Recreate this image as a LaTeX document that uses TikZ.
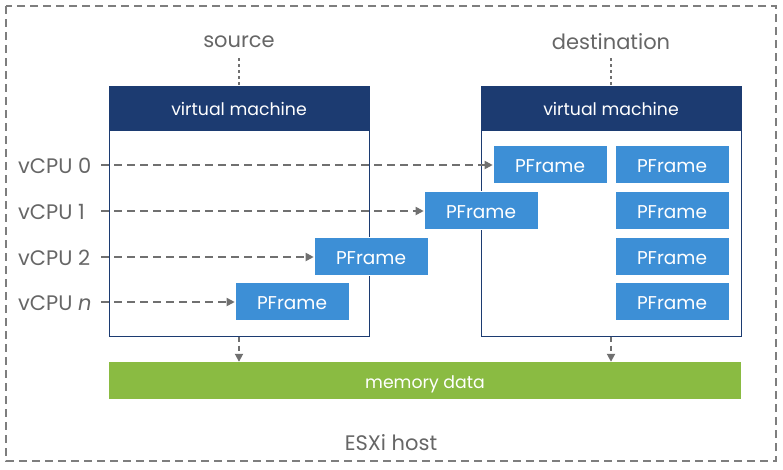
\documentclass[tikz,border=0pt]{standalone}
\usepackage{fontspec}
\setmainfont{Poppins}
\usetikzlibrary{arrows.meta}
\definecolor{navy}{HTML}{1C3B71}
\definecolor{pblue}{HTML}{3D8FD6}
\definecolor{mgreen}{HTML}{8ABB42}
\definecolor{tgray}{HTML}{666666}
\definecolor{lgray}{HTML}{707070}
\tikzset{
  pframe/.style={fill=pblue, draw=white, line width=0.6pt, minimum width=114pt, minimum height=38pt, inner sep=0pt, text=white, text height=16.6pt, text depth=0pt, font=\fontsize{18.5}{18.5}\selectfont},
  vmhead/.style={fill=navy, draw=navy, minimum width=260pt, minimum height=44pt, inner sep=0pt, text=white, text height=15.4pt, text depth=0pt, font=\fontsize{17.3}{17.3}\selectfont},
  vmbody/.style={draw=navy, line width=1pt, minimum width=260pt, minimum height=250pt, inner sep=0pt},
  lbl/.style={text=tgray, inner sep=0pt, font=\fontsize{21}{21}\selectfont},
  flow/.style={draw=lgray, line width=1.8pt, dash pattern=on 8pt off 5pt, -{Triangle[length=8pt,width=8pt]}},
  dotl/.style={draw=lgray, line width=2pt, dash pattern=on 3pt off 3pt},
}
\begin{document}
\begin{tikzpicture}[x=1pt,y=-1pt]
\useasboundingbox (0,0) rectangle (783,469);
% outer host
\draw[lgray!90, line width=1.5pt, dash pattern=on 8pt off 5pt] (6,6) rectangle (776,461);
\node[lbl] (host) at (391,443) {ESXi host};
% VMs
\node[vmbody] (svm) at (239,211) {};
\node[vmhead] (shead) at (239,108) {virtual machine};
\node[vmbody] (dvm) at (611,211) {};
\node[vmhead] (dhead) at (611,108) {virtual machine};
\node[lbl] (src) at (239,42) {source};
\node[lbl] (dst) at (611,42) {destination};
\draw[dotl] (239,58) -- (shead.north);
\draw[dotl] (611,58) -- (dhead.north);
% PFrames destination
\node[pframe] (d1) at (550,164) {PFrame};
\node[pframe] (e1) at (672,164) {PFrame};
\node[pframe] (e2) at (672,210) {PFrame};
\node[pframe] (e3) at (672,256) {PFrame};
\node[pframe] (e4) at (672,301) {PFrame};
\node[pframe] (p1) at (481,210) {PFrame};
\node[pframe] (p2) at (371,256) {PFrame};
\node[pframe] (p3) at (292,301) {PFrame};
% vCPU labels
\node[lbl, anchor=west] (c0) at (18,166) {vCPU 0};
\node[lbl, anchor=west] (c1) at (18,212) {vCPU 1};
\node[lbl, anchor=west] (c2) at (18,258) {vCPU 2};
\node[lbl, anchor=west] (cn) at (18,303) {vCPU \textit{n}};
\coordinate (s0) at (101,165);
\coordinate (s1) at (101,211);
\coordinate (s2) at (101,257);
\coordinate (sn) at (101,302);
\draw[flow] (s0) -- (d1.west|-s0);
\draw[flow] (s1) -- (p1.west|-s1);
\draw[flow] (s2) -- (p2.west|-s2);
\draw[flow] (sn) -- (p3.west|-sn);
% memory
\node[fill=mgreen, minimum width=632pt, minimum height=37pt, inner sep=0pt, text=white, text height=15.6pt, text depth=0pt, font=\fontsize{17.3}{17.3}\selectfont] (mem) at (425,380.5) {memory data};
\draw[flow, dash pattern=on 5pt off 4pt] (svm.south) -- (mem.north-|svm.south);
\draw[flow, dash pattern=on 5pt off 4pt] (dvm.south) -- (mem.north-|dvm.south);
\end{tikzpicture}
\end{document}
